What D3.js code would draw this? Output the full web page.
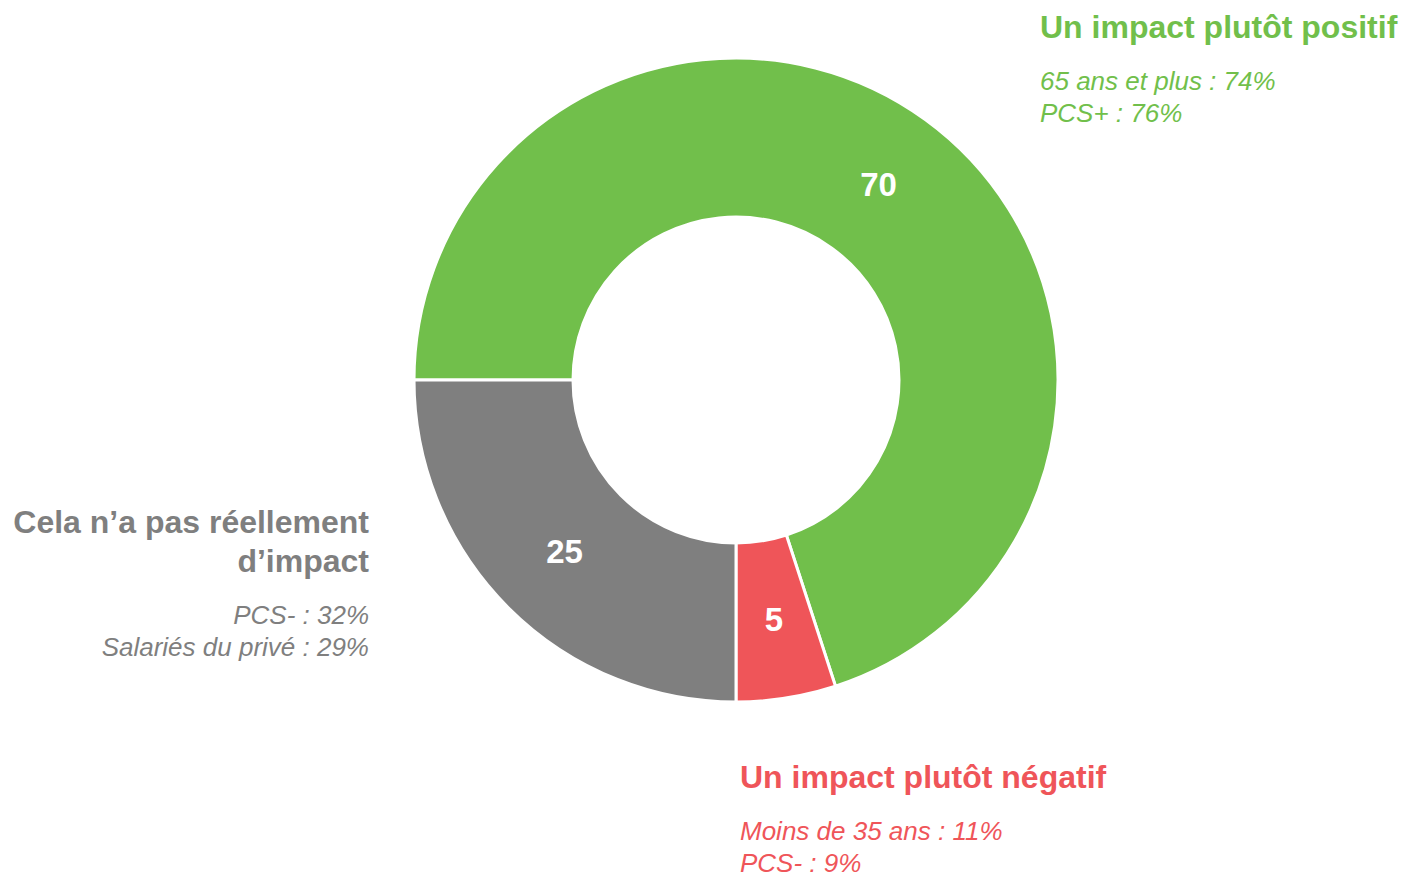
<!DOCTYPE html>
<html>
<head>
<meta charset="utf-8">
<script src="https://cdn.jsdelivr.net/npm/d3@7"></script>
<style>
  html, body { margin: 0; padding: 0; background: #fff; }
  svg { display: block; font-family: "Liberation Sans", Arial, sans-serif; }
</style>
</head>
<body>
<svg id="chart" width="1404" height="875"></svg>
<script>
const categories = ["Un impact plutôt positif", "Un impact plutôt négatif", "Cela n’a pas réellement d’impact"];
const values = [70, 5, 25];
const colors = ["#71BF4B", "#EF5559", "#7F7F7F"];
const titleLines = [["Un impact plutôt positif"], ["Un impact plutôt négatif"], ["Cela n’a pas réellement", "d’impact"]];
const detailLines = [
  ["65 ans et plus : 74%", "PCS+ : 76%"],
  ["Moins de 35 ans : 11%", "PCS- : 9%"],
  ["PCS- : 32%", "Salariés du privé : 29%"]
];

const svg = d3.select("#chart");
const cx = 736, cy = 380, outerR = 322, innerR = 163;

const pie = d3.pie().sort(null).value(d => d)
  .startAngle(-Math.PI / 2).endAngle(1.5 * Math.PI);
const arcs = pie(values);
const arc = d3.arc().innerRadius(innerR).outerRadius(outerR);

const g = svg.append("g").attr("transform", `translate(${cx},${cy})`);
g.selectAll("path").data(arcs).join("path")
  .attr("d", arc)
  .attr("fill", (d, i) => colors[i])
  .attr("stroke", "#fff")
  .attr("stroke-width", 3);

g.selectAll("text.val").data(arcs).join("text")
  .attr("class", "val")
  .attr("x", d => arc.centroid(d)[0])
  .attr("y", d => arc.centroid(d)[1])
  .attr("dy", "0.36em")
  .attr("text-anchor", "middle")
  .attr("fill", "#fff")
  .attr("font-weight", "bold")
  .attr("font-size", 33)
  .text(d => d.data);

// label blocks: [x, titleBaseline, anchor]
const labelPos = [[1040, 38, "start"], [740, 788, "start"], [369, 533, "end"]];
const titleLH = 39, titleToDetail = 52, detailLH = 32;

labelPos.forEach((p, i) => {
  const [x, y0, anchor] = p;
  const t = svg.append("g");
  titleLines[i].forEach((line, j) => {
    t.append("text")
      .attr("x", x).attr("y", y0 + j * titleLH)
      .attr("text-anchor", anchor)
      .attr("fill", colors[i])
      .attr("font-weight", "bold")
      .attr("font-size", 32)
      .text(line);
  });
  const yd = y0 + (titleLines[i].length - 1) * titleLH + titleToDetail;
  detailLines[i].forEach((line, j) => {
    t.append("text")
      .attr("x", x).attr("y", yd + j * detailLH)
      .attr("text-anchor", anchor)
      .attr("fill", colors[i])
      .attr("font-style", "italic")
      .attr("font-size", 26)
      .text(line);
  });
});
</script>
</body>
</html>
